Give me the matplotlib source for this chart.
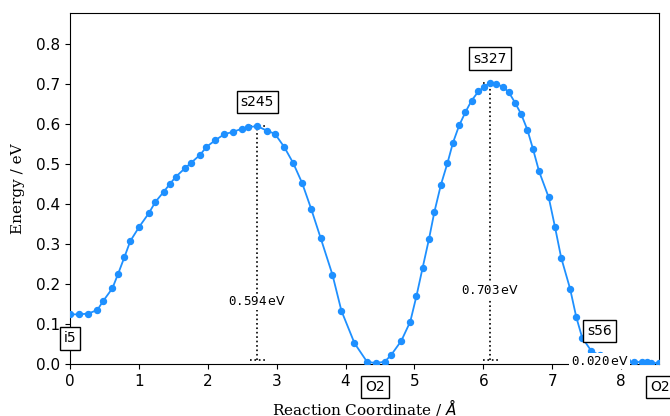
import matplotlib
matplotlib.use('Agg')
import matplotlib.pyplot as plt

# reaction path (coordinate in Angstrom, energy in eV)
path_x = [0.0, 0.135, 0.266, 0.397, 0.484, 0.615, 0.70, 0.79, 0.875, 1.006,
          1.142, 1.24, 1.36, 1.451, 1.538, 1.669, 1.761, 1.892, 1.979, 2.109,
          2.24, 2.37, 2.50, 2.59, 2.72, 2.855, 2.975, 3.11, 3.24, 3.37,
          3.50, 3.64, 3.81, 3.94, 4.13, 4.31, 4.44,
          4.57, 4.66, 4.81, 4.94, 5.03, 5.12, 5.21, 5.29, 5.385,
          5.48, 5.56, 5.65, 5.74, 5.83, 5.93, 6.01, 6.10, 6.19, 6.28,
          6.37, 6.46, 6.55, 6.64, 6.72, 6.81, 6.95, 7.04, 7.13, 7.26,
          7.35, 7.435, 7.57, 7.69,
          7.80, 7.95, 8.08, 8.19, 8.31, 8.37, 8.44, 8.55]
path_e = [0.124, 0.124, 0.126, 0.135, 0.158, 0.189, 0.226, 0.267, 0.307, 0.343,
          0.376, 0.405, 0.430, 0.450, 0.468, 0.489, 0.503, 0.523, 0.542, 0.559,
          0.574, 0.580, 0.588, 0.592, 0.594, 0.583, 0.575, 0.542, 0.502, 0.452,
          0.388, 0.314, 0.223, 0.133, 0.052, 0.006, 0.002,
          0.006, 0.022, 0.058, 0.106, 0.170, 0.241, 0.311, 0.380, 0.448,
          0.502, 0.553, 0.596, 0.629, 0.658, 0.681, 0.692, 0.703, 0.699, 0.693,
          0.679, 0.653, 0.624, 0.585, 0.538, 0.481, 0.416, 0.343, 0.266, 0.188,
          0.117, 0.066, 0.032, 0.022,
          0.018, 0.012, 0.007, 0.005, 0.005, 0.004, 0.003, 0.002]

# labelled states: name, coordinate, energy, kind (min below / ts above)
state_names = ['i5', 's245', 'O2', 's327', 's56', 'O2']
state_x = [0.0, 2.72, 4.43, 6.10, 7.69, 8.56]
state_e = [0.124, 0.594, 0.002, 0.703, 0.022, 0.002]
state_kind = ['min', 'ts', 'min', 'ts', 'ts', 'min']

# barriers: position, bottom, top, text
barrier_x = [2.72, 6.10, 7.69]
barrier_lo = [0.009, 0.009, 0.002]
barrier_hi = [0.594, 0.703, 0.022]
barrier_txt = ['0.594', '0.703', '0.020']

plt.rcParams['mathtext.fontset'] = 'dejavusans'

fig = plt.figure(figsize=(6.7, 4.16), dpi=100)
ax = fig.add_axes([0.1045, 0.125, 0.879, 0.844])

ax.plot(path_x, path_e, '-o', color='#1E90FF', lw=1.3, ms=4.3, zorder=3)

for bx, lo, hi, txt in zip(barrier_x, barrier_lo, barrier_hi, barrier_txt):
    ax.plot([bx, bx], [lo, hi], color='black', ls=':', lw=1.2, zorder=2)
    ax.plot([bx - 0.11, bx + 0.11], [lo, lo], color='black', ls=':', lw=1.2, zorder=2)
    ax.plot([bx - 0.11, bx + 0.11], [hi, hi], color='black', ls=':', lw=1.2, zorder=2)
    ax.text(bx, lo + 0.25 * (hi - lo), r'$\mathtt{%s}\,\mathrm{eV}$' % txt,
            ha='center', va='center', fontsize=9, zorder=5,
            bbox=dict(facecolor='white', edgecolor='none', pad=1))

for name, sx, se, kind in zip(state_names, state_x, state_e, state_kind):
    dy = 0.06 if kind == 'ts' else -0.06
    ax.text(sx, se + dy, name, ha='center', va='center', fontsize=10,
            clip_on=False, zorder=6,
            bbox=dict(boxstyle='square,pad=0.3', facecolor='white',
                      edgecolor='black', lw=1))

ax.set_xlim(0, 8.55)
ax.set_ylim(0, 0.877)
ax.set_xticks(range(0, 9))
ax.set_yticks([i / 10 for i in range(9)])
ax.tick_params(labelsize=11)
ax.set_xlabel(r'Reaction Coordinate / $\AA$', family='DejaVu Serif', fontsize=11, labelpad=6)
ax.set_ylabel('Energy / eV', family='DejaVu Serif', fontsize=11, labelpad=8)

plt.savefig('out.png', dpi=100)
